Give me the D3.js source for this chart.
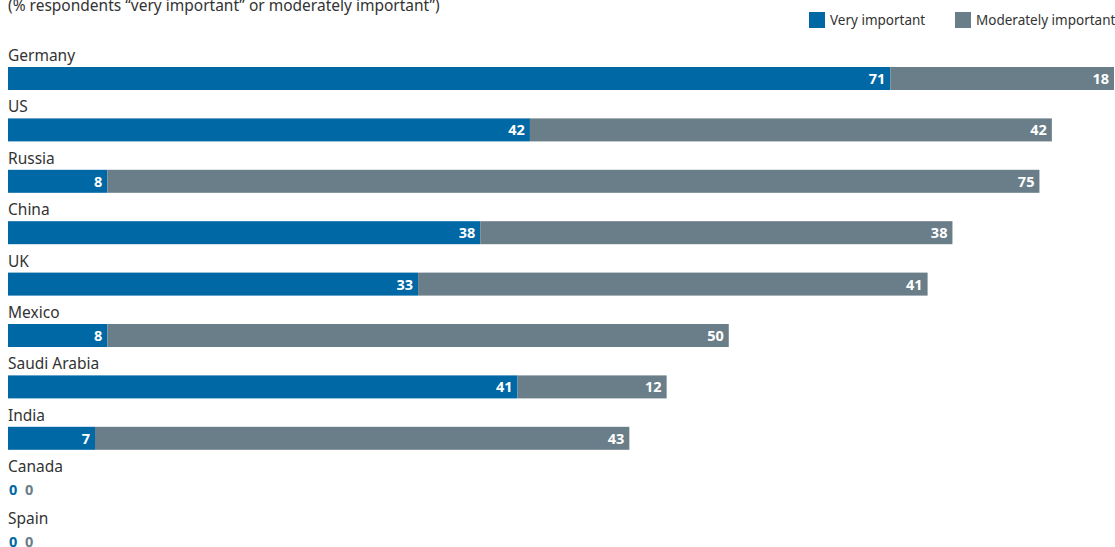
<!DOCTYPE html>
<html>
<head>
<meta charset="utf-8">
<script src="https://cdn.jsdelivr.net/npm/d3@7"></script>
<style>
  body { margin: 0; background: #fff; }
  text { font-family: "Noto Sans", sans-serif; }
</style>
</head>
<body>
<script>
// data
var countries = ["Germany", "US", "Russia", "China", "UK", "Mexico", "Saudi Arabia", "India", "Canada", "Spain"];
var veryImportant = [71, 42, 8, 38, 33, 8, 41, 7, 0, 0];
var moderatelyImportant = [18, 42, 75, 38, 41, 50, 12, 43, 0, 0];
var seriesNames = ["Very important", "Moderately important"];
var colors = ["#0068a5", "#6a7e89"];

var width = 1115, height = 547;

var svg = d3.select("body").append("svg")
    .attr("width", width)
    .attr("height", height);

// scales
var x = d3.scaleLinear().domain([0, 89]).range([8, 1114]);
var y = d3.scaleBand().domain(countries).range([44, 558]).paddingInner(0);

// subtitle (cut off at the top)
svg.append("text")
    .attr("x", 8)
    .attr("y", 11)
    .style("font-size", "15.5px")
    .style("fill", "#333")
    .text("(% respondents \u201cvery important\u201d or moderately important\u201d)");

// legend
var legendX = [809, 955];
seriesNames.forEach(function(name, i) {
    svg.append("rect")
        .attr("x", legendX[i]).attr("y", 12)
        .attr("width", 16).attr("height", 16)
        .style("fill", colors[i]);
    svg.append("text")
        .attr("x", legendX[i] + 21).attr("y", 25)
        .style("font-size", "13.5px")
        .style("fill", "#333")
        .text(name);
});

var rows = svg.selectAll("g.row").data(countries).enter().append("g")
    .attr("class", "row")
    .attr("transform", function(d) { return "translate(0," + y(d) + ")"; });

// country labels
rows.append("text")
    .attr("x", 8)
    .attr("y", 17)
    .style("font-size", "15.5px")
    .style("fill", "#333")
    .text(function(d) { return d; });

var barH = 23, barTop = 23;

// bars
rows.each(function(c, i) {
    var g = d3.select(this);
    var v = veryImportant[i], m = moderatelyImportant[i];
    if (v + m === 0) {
        // empty rows just show the two zero values
        g.append("text").attr("x", 9).attr("y", 40)
            .style("font-size", "14.5px").style("font-weight", "bold")
            .style("fill", colors[0]).text(v);
        g.append("text").attr("x", 25).attr("y", 40)
            .style("font-size", "14.5px").style("font-weight", "bold")
            .style("fill", colors[1]).text(m);
        return;
    }
    g.append("rect")
        .attr("x", x(0)).attr("y", barTop)
        .attr("width", x(v) - x(0)).attr("height", barH)
        .style("fill", colors[0]);
    g.append("rect")
        .attr("x", x(v)).attr("y", barTop)
        .attr("width", x(v + m) - x(v)).attr("height", barH)
        .style("fill", colors[1]);
    g.append("text")
        .attr("x", x(v) - 5).attr("y", barTop + 17)
        .attr("text-anchor", "end")
        .style("font-size", "14.5px").style("font-weight", "bold")
        .style("fill", "#fff").text(v);
    g.append("text")
        .attr("x", x(v + m) - 5).attr("y", barTop + 17)
        .attr("text-anchor", "end")
        .style("font-size", "14.5px").style("font-weight", "bold")
        .style("fill", "#fff").text(m);
});
</script>
</body>
</html>
